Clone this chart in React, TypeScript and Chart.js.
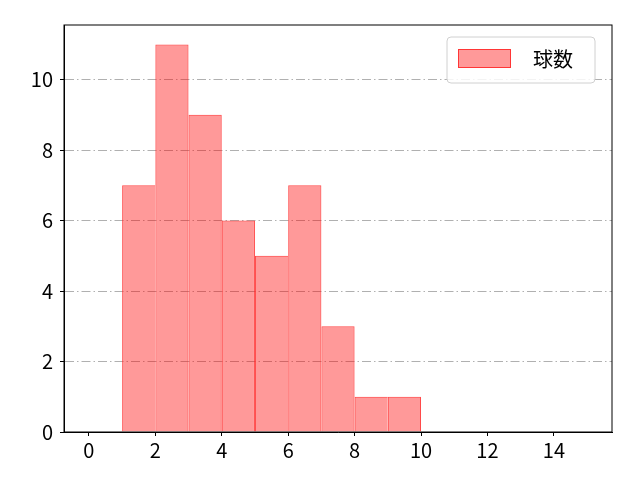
import React, { useEffect, useRef } from "react";
import { Chart, registerables } from "chart.js";

Chart.register(...registerables);

const binStarts = [0, 1, 2, 3, 4, 5, 6, 7, 8, 9, 10, 11, 12, 13, 14];
const counts = [0, 7, 11, 9, 6, 5, 7, 3, 1, 1, 0, 0, 0, 0, 0];
const xTicks = [0, 2, 4, 6, 8, 10, 12, 14];
const yTicks = [0, 2, 4, 6, 8, 10];
const seriesLabel = "球数";

const FONT = "'Noto Sans CJK JP', 'Noto Sans', sans-serif";
const FILL = "rgba(255,0,0,0.4)";
const EDGE = "rgba(255,30,30,0.8)";

export default function App() {
  const ref = useRef<HTMLCanvasElement>(null);
  useEffect(() => {
    document.body.style.margin = "0";
    const canvas = ref.current!;
    const frame = {
      id: "frame",
      afterDatasetsDraw(chart: any) {
        const { ctx, chartArea: a } = chart;
        ctx.save();
        ctx.strokeStyle = "#000";
        ctx.lineWidth = 1;
        ctx.strokeRect(a.left, a.top, a.right - a.left, a.bottom - a.top);
        // legend
        const lx = a.right - 165, ly = a.top + 12, lw = 148, lh = 46, r = 4;
        ctx.beginPath();
        ctx.moveTo(lx + r, ly);
        ctx.arcTo(lx + lw, ly, lx + lw, ly + lh, r);
        ctx.arcTo(lx + lw, ly + lh, lx, ly + lh, r);
        ctx.arcTo(lx, ly + lh, lx, ly, r);
        ctx.arcTo(lx, ly, lx + lw, ly, r);
        ctx.closePath();
        ctx.fillStyle = "rgba(255,255,255,0.85)";
        ctx.fill();
        ctx.strokeStyle = "#d0d0d0";
        ctx.stroke();
        ctx.fillStyle = FILL;
        ctx.fillRect(lx + 11, ly + 12, 53, 19);
        ctx.strokeStyle = EDGE;
        ctx.strokeRect(lx + 11.5, ly + 12.5, 52, 18);
        ctx.fillStyle = "#000";
        ctx.font = `20px ${FONT}`;
        ctx.textBaseline = "middle";
        ctx.textAlign = "left";
        ctx.fillText(seriesLabel, lx + 86, ly + 22);
        ctx.restore();
      },
    };
    const chart = new Chart(canvas, {
      type: "bar",
      data: {
        datasets: [
          {
            label: seriesLabel,
            data: binStarts.map((b, i) => ({ x: b + 0.5, y: counts[i] })),
            backgroundColor: FILL,
            borderColor: EDGE,
            borderWidth: (c: any) => {
              const i = c.dataIndex;
              const v = counts[i];
              if (!v) return 0;
              const next = i + 1 < counts.length ? counts[i + 1] : 0;
              return { left: 1, top: 1, bottom: 0, right: next < v ? 1 : 0 };
            },
            borderSkipped: false,
            barPercentage: 1,
            categoryPercentage: 1,
            inflateAmount: 0,
          },
        ],
      },
      options: {
        animation: false,
        responsive: false,
        devicePixelRatio: 1,
        layout: { padding: { top: 25, right: 28, left: 0, bottom: 0 } },
        plugins: {
          tooltip: { enabled: false },
          legend: { display: false },
        },
        scales: {
          x: {
            type: "linear",
            offset: false,
            min: -0.75,
            max: 15.75,
            afterBuildTicks: (s: any) => {
              s.ticks = xTicks.map((v) => ({ value: v }));
            },
            afterFit: (s: any) => {
              s.height = 48;
            },
            grid: {
              display: true,
              offset: false,
              drawOnChartArea: false,
              drawTicks: true,
              tickLength: 4,
              tickColor: "#000",
            },
            border: { display: true, color: "#000", width: 1 },
            ticks: {
              color: "#000",
              font: { family: FONT, size: 20 },
              padding: 2,
              maxRotation: 0,
            },
          },
          y: {
            type: "linear",
            min: 0,
            max: 11.55,
            afterBuildTicks: (s: any) => {
              s.ticks = yTicks.map((v) => ({ value: v }));
            },
            afterFit: (s: any) => {
              s.width = 64;
            },
            grid: {
              display: true,
              drawOnChartArea: true,
              drawTicks: true,
              tickLength: 4,
              color: (c: any) => (c.tick && c.tick.value === 0 ? "rgba(0,0,0,0)" : "#b0b0b0"),
              tickColor: "#000",
              tickBorderDash: [],
            },
            border: { display: true, color: "#000", width: 1, dash: [9, 3, 1.5, 3] },
            ticks: {
              color: "#000",
              font: { family: FONT, size: 20 },
              padding: 7,
            },
          },
        },
      },
      plugins: [frame],
    } as any);
    return () => chart.destroy();
  }, []);
  return <canvas ref={ref} width={640} height={480} style={{ display: "block" }} />;
}
